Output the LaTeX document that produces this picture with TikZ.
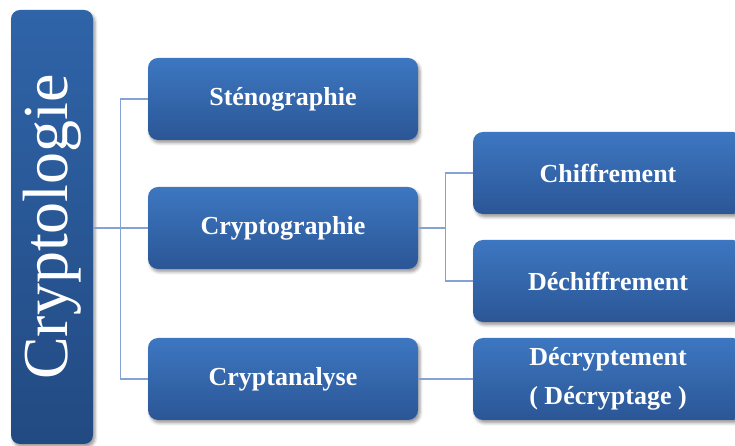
\documentclass[tikz,border=0pt]{standalone}
\usepackage{fontspec}
\setmainfont{Liberation Serif}
\usetikzlibrary{shadows.blur,calc}

\definecolor{boxtop}{RGB}{61,119,193}
\definecolor{boxbot}{RGB}{43,86,150}
\definecolor{maintop}{RGB}{47,100,168}
\definecolor{mainbot}{RGB}{34,74,130}
\definecolor{linkcol}{RGB}{132,162,212}

\tikzset{
  x=1pt, y=1pt,
  leaf/.style={rectangle, rounded corners=10pt, minimum width=270pt,
    minimum height=82pt, inner sep=0pt, top color=boxtop, bottom color=boxbot,
    text=white, align=center,
    font=\fontsize{26}{39}\selectfont\bfseries,
    blur shadow={shadow xshift=2pt, shadow yshift=-3pt,
      shadow blur radius=3pt, shadow opacity=40}},
  rootbox/.style={rectangle, rounded corners=9pt, minimum width=82pt,
    minimum height=434pt, inner sep=0pt, top color=maintop, bottom color=mainbot,
    blur shadow={shadow xshift=2pt, shadow yshift=-3pt,
      shadow blur radius=3pt, shadow opacity=40}},
  roottext/.style={text=white, rotate=90, inner sep=0pt,
    font=\fontsize{64}{70}\selectfont},
  conn/.style={draw=linkcol, line width=1.5pt}
}

\begin{document}
\begin{tikzpicture}
\useasboundingbox (0,0) rectangle (735,446);

% connectors first, so the boxes sit on top of them
\coordinate (j1) at (120.5,218);
\coordinate (j2) at (445.5,218);

% root of the hierarchy
\node[rootbox] (cl) at (52,219) {};
\node[roottext] (cltext) at (cl.center) {Cryptologie};

% first level
\node[leaf] (steno)  at (283,347) {Sténographie};
\node[leaf] (crypto) at (283,218) {Cryptographie};
\node[leaf] (crypta) at (283,67)  {Cryptanalyse};

% second level
\node[leaf] (chif)    at (608,273) {Chiffrement};
\node[leaf] (dechif)  at (608,165) {Déchiffrement};
\node[leaf] (decrypt) at (608,67)  {Décryptement\\( Décryptage )};

% elbow connectors between the levels
\draw[conn] (cl.east |- crypto.west) -- (crypto.west);
\draw[conn] (steno.west) -| (j1) |- (crypta.west);
\draw[conn] (crypto.east) -- (j2);
\draw[conn] (chif.west) -| (j2) |- (dechif.west);
\draw[conn] (crypta.east) -- (decrypt.west);
\end{tikzpicture}
\end{document}
